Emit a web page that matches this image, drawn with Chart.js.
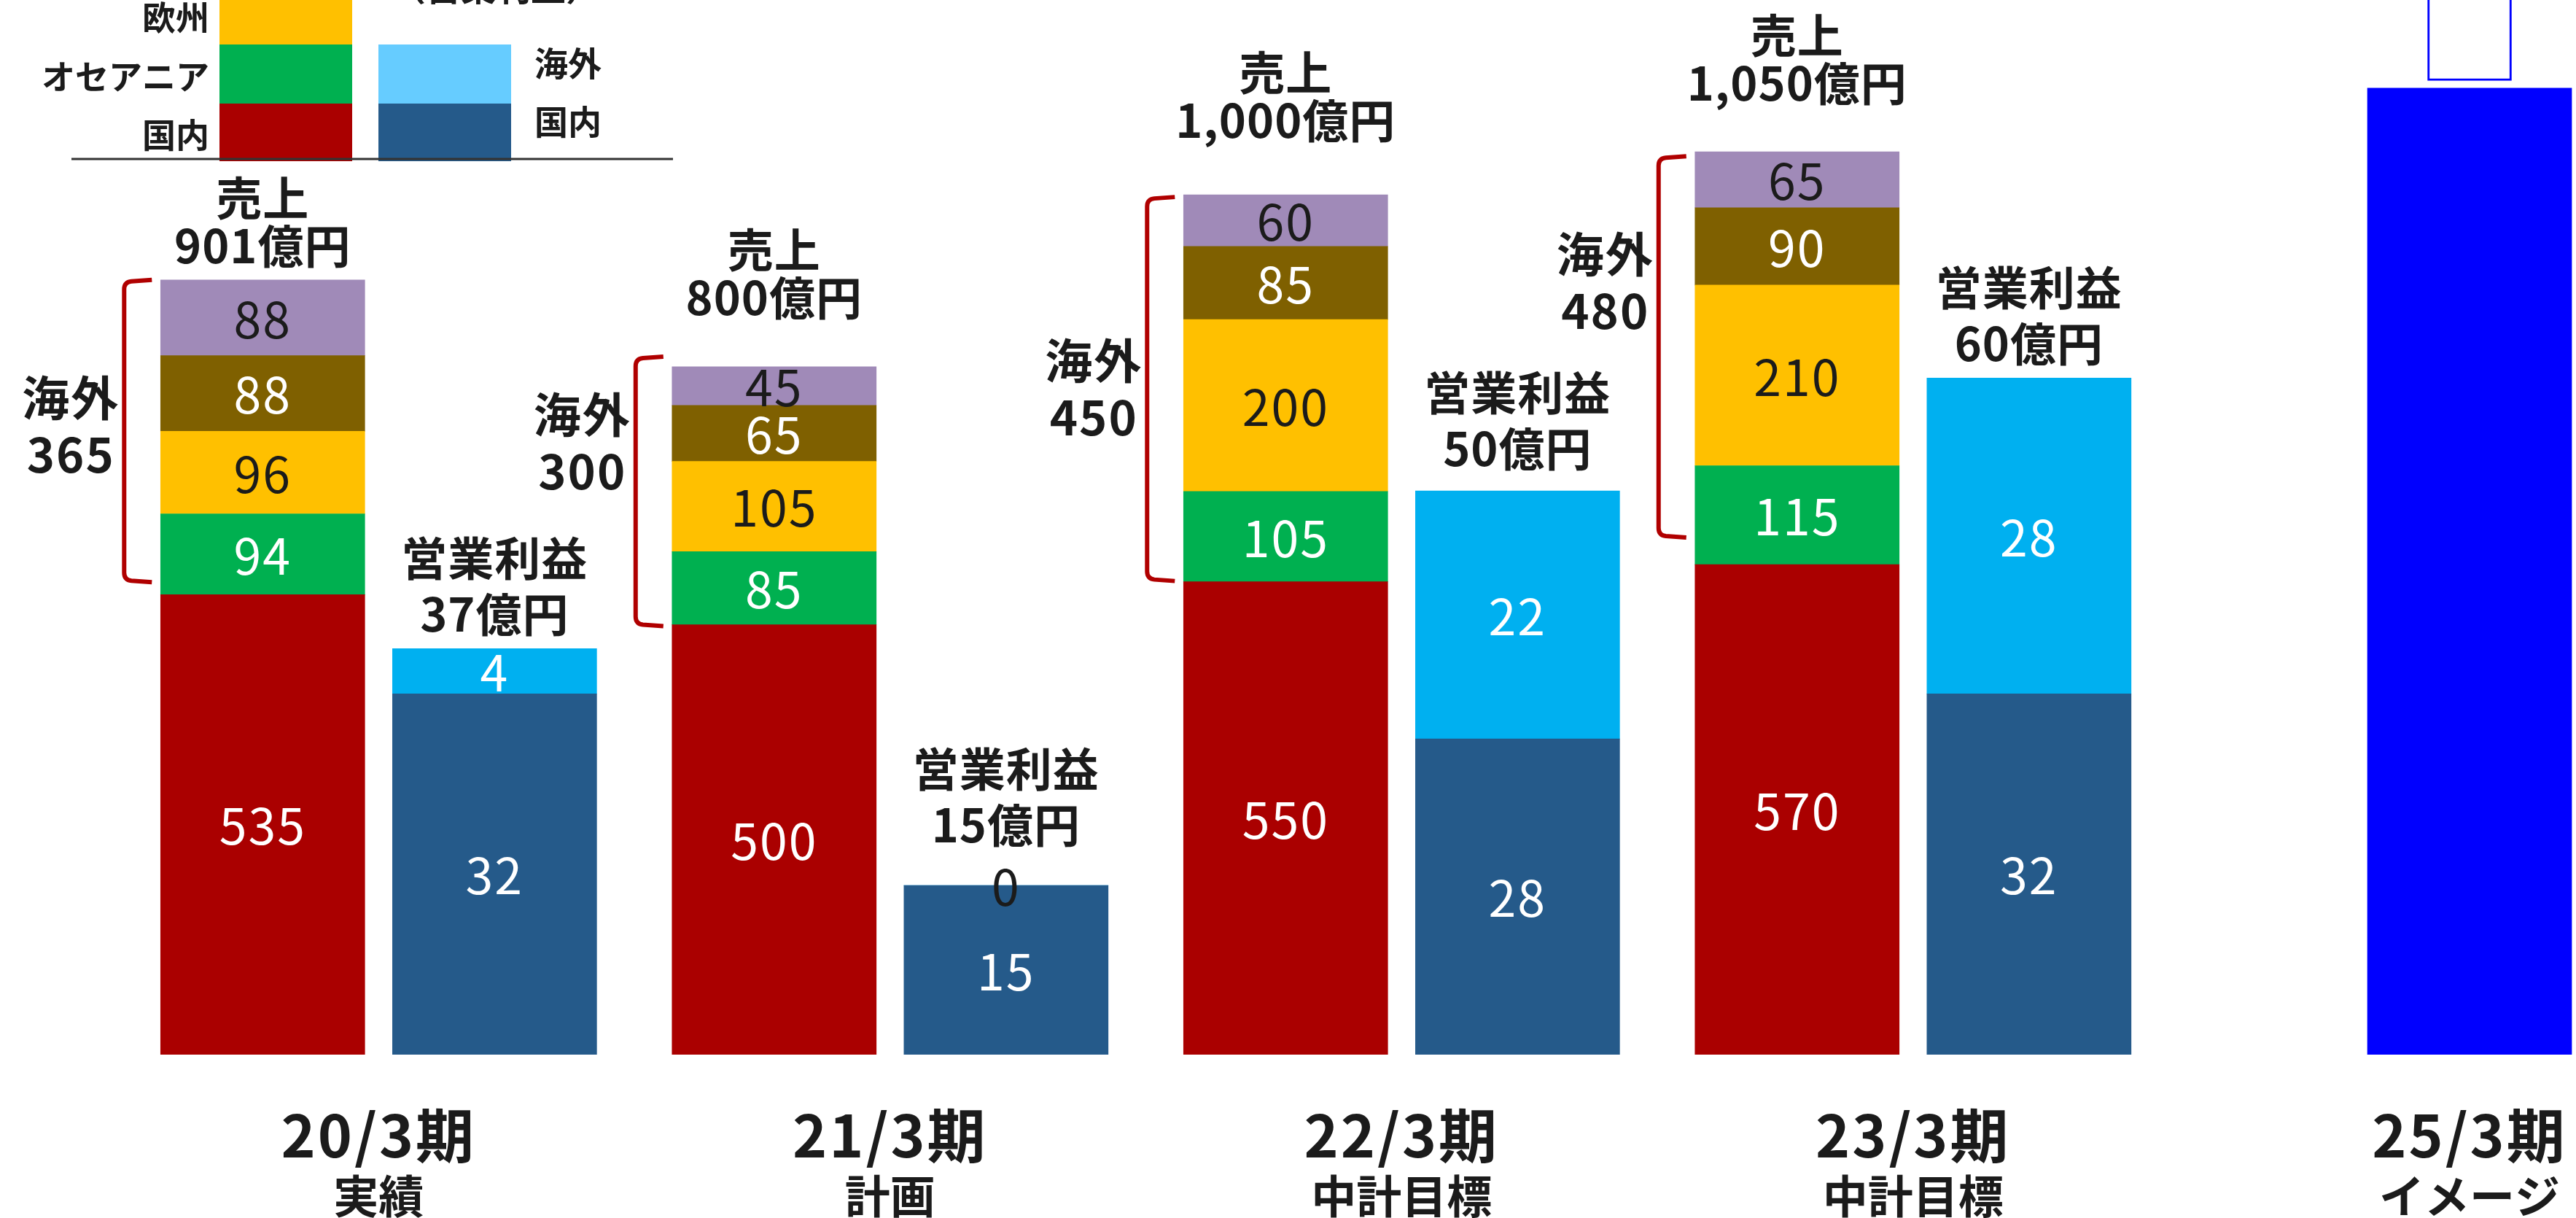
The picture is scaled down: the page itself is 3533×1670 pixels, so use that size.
<!DOCTYPE html>
<html lang="ja">
<head>
<meta charset="utf-8">
<title>売上・営業利益の推移</title>
<script src="https://cdn.jsdelivr.net/npm/chart.js@4.4.1/dist/chart.umd.min.js"></script>
<style>
  html, body { margin: 0; padding: 0; background: #fff; }
  #wrap { width: 3533px; height: 1670px; }
</style>
</head>
<body>
<div id="wrap"><canvas id="myChart" width="3533" height="1670"></canvas></div>
<script>
// ---- data (億円) ----
const periods     = ['20/3期', '21/3期', '22/3期', '23/3期', '25/3期'];
const periodNotes = ['実績', '計画', '中計目標', '中計目標', 'イメージ'];

const salesDomestic = [535, 500, 550, 570];
const salesOceania  = [94, 85, 105, 115];
const salesEurope   = [96, 105, 200, 210];
const salesRegion4  = [88, 65, 85, 90];
const salesRegion5  = [88, 45, 60, 65];
const salesTotal    = [901, 800, 1000, 1050];
const overseasTotal = [365, 300, 450, 480];

const opDomestic = [32, 15, 28, 32];
const opOverseas = [4, 0, 22, 28];
const opTotal    = [37, 15, 50, 60];

const imageBar = [1124];        // 25/3 image bar, sales scale
const imageBox = [1133, 1300];  // outlined box above it

// ---- layout ----
const groupPos = [0, 1, 2, 3, 4.088];
const barShift = 0.2267;
const FONT = "'Noto Sans CJK JP', 'Noto Sans', sans-serif";
const DARK = '#1b1b1b';
const salesHeadGap = [47, 95, 102, 94];
const opHeadGap    = [47, 83, 58, 47];
const bracketTop   = [0, -14, 3, 6];
const bracketBot   = [-17, 2, -1, -37];
const overseasShift = [-7, -66, 0, -88];

const pts = (arr, shift) => arr.map((v, i) => ({ x: groupPos[i] + shift, y: v }));

function salesSet(label, data, color, textColor) {
    return {
        label: label, data: pts(data, -barShift), backgroundColor: color,
        yAxisID: 'y', stack: 'sales', valueColor: textColor, showValue: true
    };
}
function opSet(label, data, color, textColor) {
    return {
        label: label, data: pts(data, barShift), backgroundColor: color,
        yAxisID: 'y2', stack: 'op', valueColor: textColor, showValue: true
    };
}

const datasets = [
    salesSet('国内', salesDomestic, '#AA0000', '#ffffff'),
    salesSet('オセアニア', salesOceania, '#00B050', '#ffffff'),
    salesSet('欧州', salesEurope, '#FFC000', DARK),
    salesSet('米州', salesRegion4, '#7F6000', '#ffffff'),
    salesSet('アジア', salesRegion5, '#A08AB8', DARK),
    opSet('国内', opDomestic, '#255A8A', '#ffffff'),
    opSet('海外', opOverseas, '#00B0F0', '#ffffff'),
    {
        label: 'イメージ', data: [{ x: groupPos[4], y: imageBar[0] }],
        backgroundColor: '#0000FF', yAxisID: 'y', stack: 'image'
    },
    {
        label: 'イメージ枠', data: [{ x: groupPos[4], y: imageBox }],
        backgroundColor: '#ffffff', borderColor: '#0000FF', borderWidth: 3,
        borderSkipped: false, barThickness: 115, yAxisID: 'y3'
    }
];
datasets.forEach(d => {
    d.grouped = false;
    if (!d.barThickness) d.barThickness = 280;
    if (d.borderWidth === undefined) d.borderWidth = 0;
});

// legend swatches (top-left, partly cut off)
const legendLeft  = [{ label: '欧州', ds: 2 }, { label: 'オセアニア', ds: 1 }, { label: '国内', ds: 0 }];
const legendRight = [{ label: '海外', color: '#66CCFF' }, { label: '国内', ds: 5 }];

const annotate = {
    id: 'annotate',
    afterDatasetsDraw(chart) {
        const ctx = chart.ctx;
        const ds = chart.data.datasets;
        ctx.save();
        ctx.textAlign = 'center';
        ctx.textBaseline = 'middle';

        // values inside the bars
        ctx.font = `400 68px ${FONT}`;
        ctx.letterSpacing = '2px';
        ds.forEach((d, di) => {
            if (!d.showValue) return;
            chart.getDatasetMeta(di).data.forEach((el, i) => {
                const v = d.data[i].y;
                ctx.fillStyle = v === 0 ? DARK : d.valueColor;
                ctx.fillText(String(v), el.x, (el.y + el.base) / 2 + 2);
            });
        });

        ctx.fillStyle = DARK;
        ctx.font = `700 63px ${FONT}`;
        ctx.letterSpacing = '1px';
        const topEls = chart.getDatasetMeta(4).data;
        const domEls = chart.getDatasetMeta(0).data;
        const opEls = chart.getDatasetMeta(6).data;

        // sales headers
        topEls.forEach((el, i) => {
            const y = el.y - salesHeadGap[i];
            ctx.fillText('売上', el.x, y - 66);
            ctx.fillText(salesTotal[i].toLocaleString('en-US') + '億円', el.x, y);
        });
        // operating profit headers
        opEls.forEach((el, i) => {
            const y = el.y - opHeadGap[i];
            ctx.fillText('営業利益', el.x, y - 77);
            ctx.fillText(opTotal[i] + '億円', el.x, y);
        });

        // brackets + overseas totals
        ctx.font = `700 65px ${FONT}`;
        ctx.letterSpacing = '2px';
        topEls.forEach((el, i) => {
            const left = el.x - el.width / 2;
            const xl = left - 50, xr = left - 12, r = 10;
            const y0 = el.y + bracketTop[i];
            const y1 = domEls[i].y + bracketBot[i];
            ctx.strokeStyle = '#B00000';
            ctx.lineWidth = 6;
            ctx.beginPath();
            ctx.moveTo(xr, y0);
            ctx.lineTo(xl + r, y0 + 2);
            ctx.quadraticCurveTo(xl, y0 + 3, xl, y0 + r + 3);
            ctx.lineTo(xl, y1 - r - 3);
            ctx.quadraticCurveTo(xl, y1 - 3, xl + r, y1 - 2);
            ctx.lineTo(xr, y1);
            ctx.stroke();

            const mid = (y0 + y1) / 2 + overseasShift[i];
            ctx.fillText('海外', left - 123, mid - 39);
            ctx.fillText(String(overseasTotal[i]), left - 123, mid + 39);
        });

        // category labels under the bars
        const xs = chart.scales.x;
        periods.forEach((p, i) => {
            const cx = xs.getPixelForValue(groupPos[i]);
            ctx.font = `700 80px ${FONT}`;
            ctx.letterSpacing = '3px';
            ctx.fillText(p, cx, 1557);
            ctx.font = `700 62px ${FONT}`;
            ctx.letterSpacing = '0px';
            ctx.fillText(periodNotes[i], cx, 1640);
        });

        // legend block
        const rows = [[-19, 61], [61, 142], [142, 221]];
        ctx.font = `700 46px ${FONT}`;
        ctx.letterSpacing = '0px';
        legendLeft.forEach((item, k) => {
            const [a, b] = rows[k];
            ctx.fillStyle = ds[item.ds].backgroundColor;
            ctx.fillRect(301, a, 182, b - a);
            ctx.fillStyle = DARK;
            ctx.textAlign = 'right';
            ctx.fillText(item.label, 287, (a + b) / 2 + 3);
        });
        legendRight.forEach((item, k) => {
            const [a, b] = rows[k + 1];
            ctx.fillStyle = item.color || ds[item.ds].backgroundColor;
            ctx.fillRect(519, a, 182, b - a);
            ctx.fillStyle = DARK;
            ctx.textAlign = 'left';
            ctx.fillText(item.label, 733, (a + b) / 2 - 15);
        });
        ctx.textAlign = 'center';
        ctx.textBaseline = 'alphabetic';
        ctx.font = `700 48px ${FONT}`;
        ctx.fillText('（営業利益）', 680, 1);
        ctx.strokeStyle = '#333333';
        ctx.lineWidth = 3;
        ctx.beginPath();
        ctx.moveTo(98, 218);
        ctx.lineTo(923, 218);
        ctx.stroke();

        ctx.restore();
    }
};

const ctx = document.getElementById('myChart').getContext('2d');
const myChart = new Chart(ctx, {
    type: 'bar',
    data: { datasets: datasets },
    plugins: [annotate],
    options: {
        responsive: false,
        animation: false,
        layout: { padding: { top: 0, left: 0, right: 0, bottom: 224 } },
        scales: {
            x: { type: 'linear', display: false, offset: false, min: -0.7403, max: 4.2961 },
            y: { display: false, stacked: true, min: 0, max: 1226.6 },
            y2: { display: false, stacked: true, min: 0, max: 93.53 },
            y3: { display: false, min: 0, max: 1226.6 }
        },
        plugins: {
            legend: { display: false },
            tooltip: { enabled: false }
        }
    }
});
</script>
</body>
</html>
